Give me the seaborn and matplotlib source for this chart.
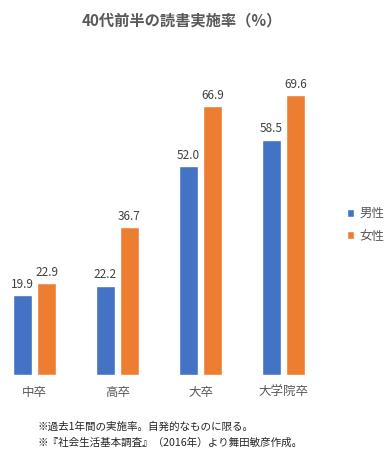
import matplotlib.pyplot as plt
import pandas as pd
import seaborn as sns

# data
categories = ['中卒', '高卒', '大卒', '大学院卒']
male = [19.9, 22.2, 52.0, 58.5]
female = [22.9, 36.7, 66.9, 69.6]
sexes = ['男性', '女性']

df = pd.DataFrame({
    'cat': categories * 2,
    'sex': [sexes[0]] * 4 + [sexes[1]] * 4,
    'value': male + female,
})

sns.set_style('white')
plt.rcParams['font.family'] = ['Noto Sans CJK JP', 'DejaVu Sans']

fig = plt.figure(figsize=(3.9, 4.61), dpi=100)
ax = fig.add_axes([0.0033, 0.1866, 0.830, 0.6985])

sns.barplot(data=df, x='cat', y='value', hue='sex', order=categories, hue_order=sexes,
            palette=['#4472C4', '#ED7D31'], saturation=1, width=0.58, gap=0.21,
            ax=ax, legend=True)

for cont in ax.containers:
    ax.bar_label(cont, fmt='%.1f', padding=3, fontsize=8.5, color='#404040')

ax.set_xlim(-0.4, 3.5)
ax.set_ylim(0, 80)
ax.set_xlabel('')
ax.set_ylabel('')
ax.set_yticks([])
ax.tick_params(axis='x', length=0, pad=8, labelsize=9, labelcolor='#595959')
sns.despine(ax=ax, left=True, bottom=True, top=True, right=True)

leg = ax.legend(loc='upper left', bbox_to_anchor=(0.86, 0.575), bbox_transform=fig.transFigure,
                frameon=False, fontsize=9, handlelength=0.6, handleheight=0.6,
                handletextpad=0.4, labelspacing=0.75)
for t in leg.get_texts():
    t.set_color('#595959')

fig.text(0.465, 0.955, '40代前半の読書実施率（%）', ha='center', va='center',
         fontsize=11, fontweight='bold', color='#595959')
fig.text(0.095, 0.075, '※過去1年間の実施率。自発的なものに限る。', fontsize=7.6, va='center')
fig.text(0.095, 0.04, '※『社会生活基本調査』（2016年）より舞田敏彦作成。', fontsize=7.6, va='center')

fig.savefig('out.png', dpi=100)
